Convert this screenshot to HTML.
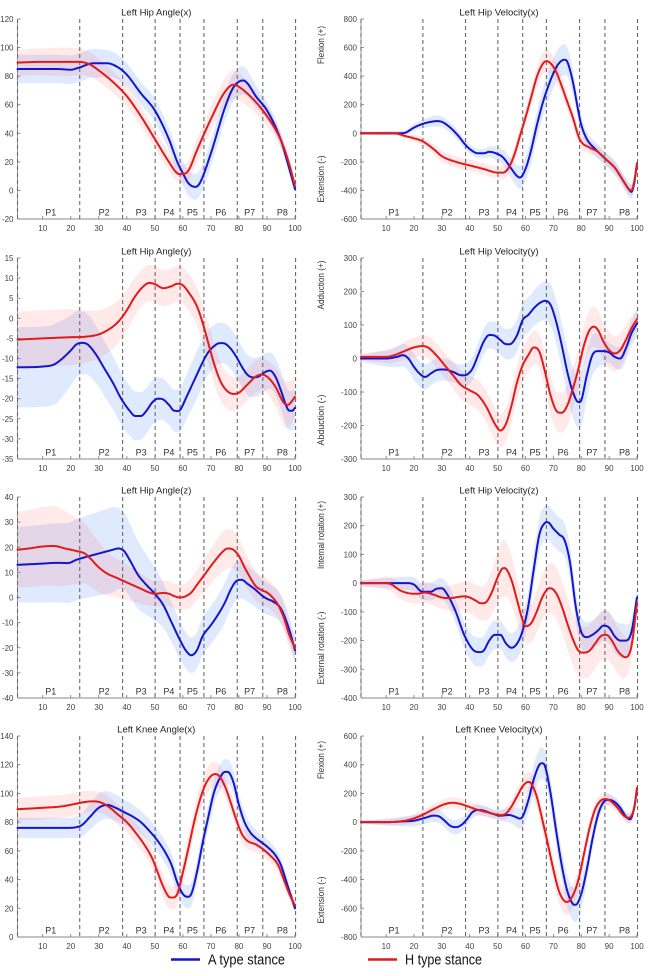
<!DOCTYPE html>
<html><head><meta charset="utf-8">
<style>
html,body{margin:0;padding:0;background:#fff;}
svg{display:block;}
text{font-family:"Liberation Sans",Arial,sans-serif;}
</style></head>
<body>
<svg id="c" width="650" height="976" viewBox="0 0 650 976" xmlns="http://www.w3.org/2000/svg">
<rect width="650" height="976" fill="#fff"/>
<g font-size="9.5" fill="#333">
<text transform="translate(324,45) rotate(-90)" text-anchor="middle" textLength="38" lengthAdjust="spacingAndGlyphs">Flexion (+)</text>
<text transform="translate(324,179) rotate(-90)" text-anchor="middle" textLength="47" lengthAdjust="spacingAndGlyphs">Extension (-)</text>
<text transform="translate(324,285) rotate(-90)" text-anchor="middle" textLength="49" lengthAdjust="spacingAndGlyphs">Adduction (+)</text>
<text transform="translate(324,420) rotate(-90)" text-anchor="middle" textLength="51" lengthAdjust="spacingAndGlyphs">Abduction (-)</text>
<text transform="translate(324,535) rotate(-90)" text-anchor="middle" textLength="68" lengthAdjust="spacingAndGlyphs">Internal rotation (+)</text>
<text transform="translate(324,648) rotate(-90)" text-anchor="middle" textLength="73" lengthAdjust="spacingAndGlyphs">External rotation (-)</text>
<text transform="translate(324,760) rotate(-90)" text-anchor="middle" textLength="38" lengthAdjust="spacingAndGlyphs">Flexion (+)</text>
<text transform="translate(324,900) rotate(-90)" text-anchor="middle" textLength="47" lengthAdjust="spacingAndGlyphs">Extension (-)</text>
</g>
<line x1="171" y1="959.5" x2="200" y2="959.5" stroke="#1515cc" stroke-width="2.5"/>
<text x="208" y="964.5" font-size="15" fill="#111" textLength="77" lengthAdjust="spacingAndGlyphs">A type stance</text>
<line x1="368" y1="959.5" x2="397" y2="959.5" stroke="#e31a1a" stroke-width="2.5"/>
<text x="405" y="964.5" font-size="15" fill="#111" textLength="77" lengthAdjust="spacingAndGlyphs">H type stance</text>
</svg>
<script>
(function(){
var NS="http://www.w3.org/2000/svg";
var svg=document.getElementById('c');
function el(tag,attrs,parent,txt){var e=document.createElementNS(NS,tag);for(var k in attrs)e.setAttribute(k,attrs[k]);if(txt!==undefined)e.textContent=txt;(parent||svg).appendChild(e);return e;}
function prep(p){var n=p.length,d=[],m=[];for(var i=0;i<n-1;i++)d.push((p[i+1][1]-p[i][1])/(p[i+1][0]-p[i][0]));
 for(var i=0;i<n;i++){if(i==0)m.push(d[0]);else if(i==n-1)m.push(d[n-2]);else{ if(d[i-1]*d[i]<=0)m.push(0); else m.push((d[i-1]+d[i])/2);}}return {p:p,m:m};}
function ev(s,x){var p=s.p,m=s.m,n=p.length;if(x<=p[0][0])return p[0][1];if(x>=p[n-1][0])return p[n-1][1];
 var i=0;while(i<n-2&&x>p[i+1][0])i++;var x0=p[i][0],x1=p[i+1][0],h=x1-x0,t=(x-x0)/h,t2=t*t,t3=t2*t;
 return (2*t3-3*t2+1)*p[i][1]+(t3-2*t2+t)*h*m[i]+(-2*t3+3*t2)*p[i+1][1]+(t3-t2)*h*m[i+1];}
function lin(p,x){var n=p.length;if(x<=p[0][0])return p[0][1];if(x>=p[n-1][0])return p[n-1][1];var i=0;while(i<n-2&&x>p[i+1][0])i++;var t=(x-p[i][0])/(p[i+1][0]-p[i][0]);return p[i][1]+t*(p[i+1][1]-p[i][1]);}
var dash=[1,23.2,38.5,50.1,59,67.5,79.4,88.5,100.2];
var plab=[[12.85,'P1'],[31.9,'P2'],[45.1,'P3'],[55,'P4'],[63.4,'P5'],[73.5,'P6'],[83.8,'P7'],[95.5,'P8']];
var cols=[[17.5,295],[361,637]];
var rows=[[19,219],[258,459],[497,698],[736,937]];
var P=[
{c:0,r:0,t:'Left Hip Angle(x)',y0:-20,y1:120,st:20,
red:[[1,89.5],[10,90],[20,90],[23,90],[27,88],[30,84],[35,76],[40,66],[45,52],[50,36],[55,20],[58,12],[60,11.5],[62,14],[65,28],[70,50],[75,69],[78,74],[80,72.5],[85,64],[90,52],[95,35],[98,18],[100,3]],
blue:[[1,85],[10,85],[15,85],[20,84.5],[23,86],[28,89],[33,89],[37,86],[40,81],[45,68],[50,56],[55,36],[58,20],[60,12],[62,5],[64.5,2.5],[66,5],[70,26],[75,58],[78,72],[81.5,77],[83,75],[86,66],[90,56],[95,35],[98,15],[100,1]],
rw:[[1,9],[20,10],[30,8],[45,7],[58,6],[65,8],[78,10],[90,7],[100,4]],
bw:[[1,10],[20,10],[30,10],[40,8],[55,8],[64,9],[81,10],[90,6],[100,4]]},
{c:1,r:0,t:'Left Hip Velocity(x)',y0:-600,y1:800,st:200,
red:[[1,0],[10,0],[13,0],[17,-20],[20,-35],[23,-55],[27,-110],[30,-160],[35,-200],[40,-225],[45,-250],[50,-275],[52,-275],[54,-240],[56,-150],[58,-20],[60,110],[62,250],[64,390],[66,480],[67.5,505],[69,490],[71,430],[73,330],[75,220],[77,110],[79,-20],[80,-60],[83,-100],[86,-130],[89,-185],[92,-240],[95,-330],[97,-390],[98,-400],[99,-340],[100,-210]],
blue:[[1,0],[10,0],[14,0],[17,5],[20,40],[23,65],[26,80],[28,85],[30,80],[33,40],[36,-20],[38,-70],[40,-110],[43,-140],[45,-140],[47,-130],[50,-145],[52,-170],[55,-250],[57,-300],[58,-310],[60,-250],[62,-120],[64,50],[66,200],[68,320],[70,420],[72,490],[74,515],[75,500],[77,360],[79,150],[80,60],[82,-40],[85,-110],[89,-185],[92,-240],[95,-330],[97,-390],[98,-410],[99,-350],[100,-210]],
rw:[[1,10],[15,15],[30,40],[50,40],[60,60],[67,80],[75,60],[85,40],[98,40],[100,30]],
bw:[[1,10],[15,15],[28,40],[45,30],[58,80],[66,100],[74,110],[82,50],[98,50],[100,30]]},
{c:0,r:1,t:'Left Hip Angle(y)',y0:-35,y1:15,st:5,
red:[[1,-5.3],[10,-5],[20,-4.7],[25,-4.6],[30,-4],[33,-3],[36,-1.5],[38,0],[40,2],[43,5.5],[46,8],[48,8.8],[50,8.5],[53,7.5],[56,8],[58,8.6],[60,8.2],[62,6.5],[65,3],[67,-1],[69,-6],[71,-11],[73,-15],[75,-17.5],[78,-18.8],[80,-18.5],[83,-16.5],[86,-14.5],[88,-14],[90,-14.5],[93,-17],[96,-21],[97.5,-21.5],[99,-20.5],[100,-19.5]],
blue:[[1,-12.2],[10,-12],[14,-11.5],[17,-10],[20,-8],[22,-6.5],[24,-6.1],[26,-6.5],[29,-9],[32,-12.5],[35,-16],[38,-20],[41,-23],[43,-24.3],[45,-24.3],[47,-23],[49,-21],[51,-20],[53,-20.2],[55,-21.5],[57,-23],[59,-22.8],[61,-20],[63,-17],[65,-14],[67,-11],[69,-8.5],[71,-7],[73,-6.2],[75,-6.3],[77,-7.5],[79,-9.5],[81,-12],[83,-14],[85,-14.7],[87,-14.5],[89,-13.5],[91,-13],[93,-14.5],[95,-18],[97,-22],[98,-23],[99,-23],[100,-22.3]],
rw:[[1,7],[20,7],[30,6],[45,4.5],[60,4.5],[70,5],[80,4],[90,4],[97,6],[100,5]],
bw:[[1,10],[15,10],[23,8],[30,7],[44,6],[55,5],[65,6],[74,5],[85,5],[91,4.5],[100,5]]},
{c:1,r:1,t:'Left Hip Velocity(y)',y0:-300,y1:300,st:100,
red:[[1,5],[10,5],[13,10],[16,20],[20,33],[23,37],[25,33],[28,10],[31,-20],[34,-50],[37,-80],[40,-95],[43,-110],[46,-145],[49,-195],[51,-215],[53,-195],[55,-140],[57,-70],[59,-20],[61,10],[63,33],[65,20],[67,-40],[69,-110],[71,-155],[73,-162],[75,-140],[77,-90],[79,-30],[81,40],[83,85],[84.5,95],[86,85],[88,50],[90,25],[92,15],[94,25],[96,55],[98,90],[100,118]],
blue:[[1,0],[10,0],[14,5],[16,10],[18,0],[20,-25],[22,-45],[24,-55],[26,-45],[28,-35],[31,-33],[34,-40],[37,-50],[39,-48],[41,-30],[43,10],[45,50],[47,70],[49,68],[51,55],[53,43],[55,45],[57,70],[59,115],[61,130],[63,150],[65,165],[67,172],[69,160],[71,110],[73,40],[75,-40],[77,-100],[79,-130],[80,-125],[82,-50],[84,10],[86,22],[88,22],[90,18],[92,5],[94,0],[96,30],[98,75],[100,105]],
rw:[[1,10],[20,30],[35,40],[50,50],[63,50],[73,60],[84,60],[95,50],[100,30]],
bw:[[1,10],[20,40],[35,30],[47,40],[65,55],[80,80],[90,30],[100,40]]},
{c:0,r:2,t:'Left Hip Angle(z)',y0:-40,y1:40,st:10,
red:[[1,19],[5,19.5],[10,20.3],[14,20.5],[18,19.5],[22,18.5],[25,17.5],[27,15.5],[30,12],[33,9.5],[36,8],[39,6.5],[42,5],[45,3.5],[48,2],[50,1.5],[53,1.8],[55,1.5],[57,0.5],[59,0],[61,0.5],[63,2],[65,5],[68,9.5],[71,14],[74,18],[76,19.5],[78,19],[80,16.5],[82,12],[84,8],[86,4.5],[88,3],[90,2],[92,0],[94,-3],[96,-8],[98,-15],[100,-20]],
blue:[[1,13],[10,13.5],[15,13.8],[19,13.7],[22,15],[25,16],[30,17.5],[35,19],[37,19.5],[39,18.5],[41,15],[44,9],[47,5],[50,1.5],[53,-3],[56,-10],[59,-17],[61,-21],[63,-23],[65,-21],[67,-15.5],[70,-11],[73,-6],[75,-2],[77,3],[79,6.5],[81,7],[83,5.5],[86,3],[88,1],[90,-0.5],[92,-1.5],[95,-4.5],[98,-13],[100,-21]],
rw:[[1,15],[15,16],[25,12],[35,8],[50,5],[60,5],[75,8],[85,6],[100,5]],
bw:[[1,15],[20,16],[35,17],[45,13],[55,8],[63,7],[75,8],[85,7],[100,5]]},
{c:1,r:2,t:'Left Hip Velocity(z)',y0:-400,y1:300,st:100,
red:[[1,0],[10,0],[12,-5],[15,-25],[18,-35],[21,-37],[24,-33],[27,-40],[30,-50],[33,-52],[36,-48],[38,-46],[40,-50],[42,-60],[44,-70],[46,-65],[48,-30],[50,20],[52,52],[53,50],[55,10],[57,-60],[59,-130],[60,-150],[62,-140],[64,-100],[66,-50],[68,-20],[69,-18],[71,-35],[73,-80],[75,-140],[77,-195],[79,-235],[81,-242],[83,-235],[85,-210],[87,-185],[89,-180],[91,-200],[93,-235],[95,-255],[96,-258],[98,-220],[100,-70]],
blue:[[1,0],[10,0],[14,0],[18,0],[20,-5],[23,-30],[26,-30],[28,-20],[30,-18],[32,-40],[35,-100],[38,-180],[41,-230],[43,-240],[45,-235],[47,-200],[49,-180],[51,-180],[53,-210],[55,-225],[57,-210],[59,-165],[61,-80],[63,50],[65,170],[67,210],[68,212],[70,190],[72,170],[74,150],[76,70],[78,-80],[80,-170],[82,-188],[84,-180],[86,-165],[88,-148],[90,-155],[92,-185],[94,-200],[96,-200],[98,-170],[100,-50]],
rw:[[1,10],[15,30],[30,40],[45,60],[52,100],[60,60],[70,90],[80,90],[95,80],[100,30]],
bw:[[1,10],[20,25],[30,35],[42,50],[55,50],[65,60],[72,60],[85,50],[95,60],[100,40]]},
{c:0,r:3,t:'Left Knee Angle(x)',y0:0,y1:140,st:20,
red:[[1,89],[10,90],[17,91],[21,92.5],[25,94],[28,94.5],[31,93.5],[34,90],[37,85],[40,80],[43,73],[46,65],[49,55],[51,45],[53,35],[55,28],[56,27.5],[58,30],[60,45],[62,62],[64,80],[66,95],[68,106],[70,112],[71.5,113.5],[73,112],[75,105],[77,94],[79,82],[81,72],[83,67],[86,64.5],[88,62],[91,57],[94,50],[96,40],[98,30],[100,22]],
blue:[[1,76],[10,76],[18,76],[22,76.5],[24,78],[27,84],[30,90],[33,92],[36,90],[39,87],[42,84],[45,80],[48,74],[51,67],[54,58],[56,50],[58,38],[60,30],[61.5,28],[63,30],[65,45],[67,65],[69,83],[71,100],[73,110],[75,115],[76,115],[78,108],[80,92],[82,80],[84,73],[86,69],[88,66],[90,63],[93,57],[95,50],[97,38],[99,26],[100,20]],
rw:[[1,8],[20,8],[30,7],[45,7],[56,8],[70,9],[80,6],[100,4]],
bw:[[1,7],[20,7],[30,10],[45,8],[61,8],[75,9],[85,6],[100,4]]},
{c:1,r:3,t:'Left Knee Velocity(x)',y0:-800,y1:600,st:200,
red:[[1,0],[10,0],[15,5],[19,20],[23,50],[27,90],[31,125],[34,135],[37,125],[40,105],[43,85],[46,70],[49,55],[51,50],[53,60],[55,110],[57,180],[59,250],[61,280],[62,270],[64,180],[66,20],[68,-150],[70,-330],[72,-480],[74,-550],[75,-555],[77,-510],[79,-400],[81,-220],[83,-40],[85,90],[87,150],[89,160],[91,140],[93,100],[95,50],[97,30],[99,100],[100,240]],
blue:[[1,0],[10,0],[16,5],[20,10],[24,30],[27,45],[29,40],[31,10],[33,-25],[35,-35],[37,-20],[39,20],[41,70],[43,85],[45,80],[48,60],[51,45],[54,50],[56,40],[58,25],[59,40],[61,150],[63,300],[65,400],[66,410],[67,390],[69,200],[71,-60],[73,-300],[75,-480],[77,-570],[78,-575],[80,-500],[82,-330],[84,-120],[86,50],[88,140],[90,155],[92,140],[94,100],[96,40],[97.5,20],[99,100],[100,230]],
rw:[[1,10],[20,30],[35,40],[50,30],[60,70],[70,80],[75,90],[85,50],[100,30]],
bw:[[1,10],[20,40],[35,50],[50,30],[65,110],[72,100],[78,120],[88,40],[100,30]]}
];
P.forEach(function(p){
 var xa=cols[p.c][0],xb=cols[p.c][1],top=rows[p.r][0],bot=rows[p.r][1];
 function X(d){return xa+(d-1)*(xb-xa)/99;}
 function Y(v){return bot-(v-p.y0)*(bot-top)/(p.y1-p.y0);}
 var g=el('g',{});
 function band(s,w,fill){var up=[],lo=[];for(var x=1;x<=100.001;x+=0.5){var v=ev(s,x),ww=lin(w,x);up.push(X(x).toFixed(2)+','+Y(Math.min(p.y1,v+ww)).toFixed(2));lo.push(X(x).toFixed(2)+','+Y(Math.max(p.y0,v-ww)).toFixed(2));}
  el('polygon',{points:up.concat(lo.reverse()).join(' '),fill:fill,stroke:'none'},g);}
 function line(s,col){var pts=[];for(var x=1;x<=100.001;x+=0.25){pts.push(X(x).toFixed(2)+','+Y(ev(s,x)).toFixed(2));}
  el('polyline',{points:pts.join(' '),fill:'none',stroke:col,'stroke-width':2,'stroke-linejoin':'round','stroke-linecap':'round'},g);}
 var sb=prep(p.blue),sr=prep(p.red);
 band(sb,p.bw,'rgba(70,130,255,0.17)');
 band(sr,p.rw,'rgba(255,70,70,0.12)');
 // axes
 el('line',{x1:xa,y1:top,x2:xa,y2:bot,stroke:'#9a9a9a','stroke-width':1},g);
 el('line',{x1:xa,y1:bot,x2:xb+1,y2:bot,stroke:'#8a8a8a','stroke-width':1},g);
 dash.forEach(function(d){var x=X(d);el('line',{x1:x,y1:top,x2:x,y2:bot,stroke:'#6a6a6a','stroke-width':1.1,'stroke-dasharray':'4 3'},g);});
 // ticks
 for(var v=p.y0;v<=p.y1+1e-6;v+=p.st){var y=Y(v);el('line',{x1:xa,y1:y,x2:xa+3,y2:y,stroke:'#777','stroke-width':0.8},g);
  el('text',{x:xa-4,y:y+3,'text-anchor':'end','font-size':8,fill:'#444'},g,String(v));}
 for(var d=10;d<=100;d+=10){var x=X(d);el('line',{x1:x,y1:bot,x2:x,y2:bot-3,stroke:'#777','stroke-width':0.8},g);
  el('text',{x:x,y:bot+12,'text-anchor':'middle','font-size':8,fill:'#444'},g,String(d));}
 plab.forEach(function(q){el('text',{x:X(q[0]),y:bot-3.5,'text-anchor':'middle','font-size':9,fill:'#333'},g,q[1]);});
 el('text',{x:(xa+xb)/2,y:top-3.5,'text-anchor':'middle','font-size':9.5,fill:'#222'},g,p.t);
 line(sb,'#1515cc');
 line(sr,'#e31a1a');
});
})();
</script>
</body></html>
